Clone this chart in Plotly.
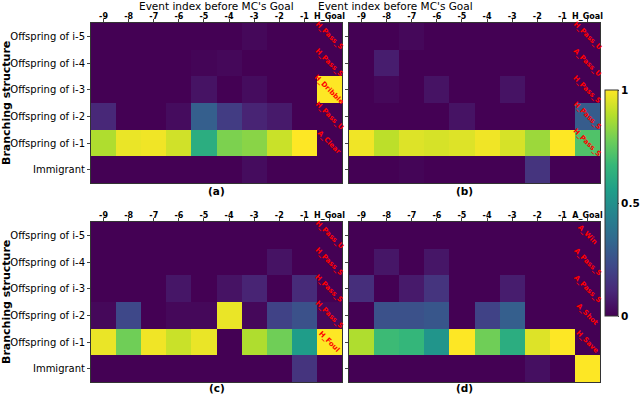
import plotly.graph_objects as go

row_labels = ["Offspring of i-5", "Offspring of i-4", "Offspring of i-3",
              "Offspring of i-2", "Offspring of i-1", "Immigrant"]
cols_home = ["-9", "-8", "-7", "-6", "-5", "-4", "-3", "-2", "-1", "H_Goal"]
cols_away = ["-9", "-8", "-7", "-6", "-5", "-4", "-3", "-2", "-1", "A_Goal"]

panel_a = [
    [0.00, 0.00, 0.00, 0.00, 0.00, 0.00, 0.02, 0.00, 0.00, 0.00],
    [0.00, 0.00, 0.00, 0.00, 0.01, 0.02, 0.00, 0.00, 0.00, 0.00],
    [0.00, 0.00, 0.00, 0.00, 0.05, 0.00, 0.03, 0.00, 0.00, 1.00],
    [0.11, 0.00, 0.00, 0.03, 0.30, 0.18, 0.10, 0.07, 0.00, 0.00],
    [0.88, 0.97, 0.98, 0.93, 0.62, 0.80, 0.82, 0.92, 1.00, 0.00],
    [0.00, 0.00, 0.00, 0.00, 0.00, 0.00, 0.03, 0.00, 0.00, 0.00],
]
panel_b = [
    [0.00, 0.00, 0.02, 0.00, 0.00, 0.00, 0.00, 0.00, 0.00, 0.00],
    [0.00, 0.08, 0.00, 0.00, 0.00, 0.00, 0.00, 0.00, 0.00, 0.00],
    [0.00, 0.02, 0.00, 0.05, 0.00, 0.00, 0.05, 0.00, 0.00, 0.00],
    [0.00, 0.00, 0.00, 0.00, 0.05, 0.00, 0.00, 0.00, 0.00, 0.29],
    [0.98, 0.90, 0.95, 0.94, 0.95, 0.98, 0.94, 0.85, 1.00, 0.72],
    [0.00, 0.00, 0.01, 0.00, 0.00, 0.00, 0.00, 0.15, 0.00, 0.00],
]
panel_c = [
    [0.00, 0.00, 0.00, 0.00, 0.00, 0.00, 0.00, 0.00, 0.00, 0.00],
    [0.00, 0.00, 0.00, 0.00, 0.00, 0.00, 0.00, 0.05, 0.00, 0.00],
    [0.00, 0.00, 0.00, 0.06, 0.00, 0.05, 0.10, 0.00, 0.12, 0.00],
    [0.02, 0.22, 0.00, 0.02, 0.02, 0.97, 0.02, 0.20, 0.25, 0.02],
    [0.97, 0.78, 0.98, 0.92, 0.97, 0.00, 0.88, 0.78, 0.55, 1.00],
    [0.00, 0.00, 0.00, 0.00, 0.00, 0.00, 0.00, 0.00, 0.15, 0.00],
]
panel_d = [
    [0.00, 0.00, 0.00, 0.00, 0.00, 0.00, 0.00, 0.00, 0.00, 0.00],
    [0.00, 0.06, 0.00, 0.06, 0.00, 0.00, 0.00, 0.00, 0.00, 0.00],
    [0.13, 0.00, 0.07, 0.15, 0.00, 0.00, 0.08, 0.00, 0.00, 0.00],
    [0.00, 0.25, 0.25, 0.27, 0.00, 0.20, 0.30, 0.00, 0.00, 0.00],
    [0.88, 0.68, 0.66, 0.52, 1.00, 0.78, 0.62, 0.95, 1.00, 0.00],
    [0.00, 0.00, 0.00, 0.00, 0.00, 0.00, 0.00, 0.04, 0.00, 1.00],
]

goal_events_a = ["H_Pass_S", "H_Pass_S", "H_Dribble", "H_Pass_U", "A_Clear"]
goal_events_b = ["H_Pass_U", "A_Pass_U", "H_Pass_S", "H_Pass_S", "H_Pass_S"]
goal_events_c = ["H_Pass_U", "H_Pass_S", "H_Pass_S", "H_Pass_S", "H_Foul"]
goal_events_d = ["A_Win", "A_Pass_S", "A_Pass_S", "A_Shot", "H_Save"]

panels = [
    (panel_a, cols_home, goal_events_a, "(a)"),
    (panel_b, cols_home, goal_events_b, "(b)"),
    (panel_c, cols_home, goal_events_c, "(c)"),
    (panel_d, cols_away, goal_events_d, "(d)"),
]

W, H = 640, 395
xdoms = [[91 / W, 342 / W], [349 / W, 600 / W]]
ydoms = [[1 - 183 / H, 1 - 23 / H], [1 - 382 / H, 1 - 222 / H]]
FONT = "DejaVu Sans"

fig = go.Figure()
layout = dict(
    width=W, height=H, margin=dict(l=0, r=0, t=0, b=0, autoexpand=False),
    paper_bgcolor="white", plot_bgcolor="white",
    font=dict(family=FONT, color="black"),
    showlegend=False,
)
annotations = []
xi = list(range(10))
yi = list(range(6))

for k, (z, cols, events, tag) in enumerate(panels):
    r, c = divmod(k, 2)
    n = k + 1
    xname = "x" if n == 1 else f"x{n}"
    yname = "y" if n == 1 else f"y{n}"
    fig.add_trace(go.Heatmap(
        z=z, x=xi, y=yi, xaxis=xname, yaxis=yname,
        colorscale="Viridis", zmin=0, zmax=1, showscale=(k == 0),
        colorbar=dict(
            thickness=13, lenmode="pixels", len=226, xpad=0, ypad=0,
            x=605 / W, xanchor="left", y=1 - 203 / H, yanchor="middle",
            outlinewidth=1, outlinecolor="#333",
            tickvals=[0, 0.5, 1], ticktext=["<b>0</b>", "<b>0.5</b>", "<b>1</b>"],
            ticks="outside", ticklen=1, tickfont=dict(size=10.5, family=FONT),
        ),
        hoverinfo="skip",
    ))
    xkey = "xaxis" if n == 1 else f"xaxis{n}"
    ykey = "yaxis" if n == 1 else f"yaxis{n}"
    layout[xkey] = dict(
        domain=xdoms[c], anchor=yname, side="top", automargin=False,
        range=[-0.5, 9.5], tickvals=xi,
        ticktext=[f"<b>{t}</b>" for t in cols],
        tickfont=dict(size=8, family=FONT), ticklabelstandoff=-3,
        ticks="outside", ticklen=3, showgrid=False, zeroline=False,
        showline=True, mirror=True, linecolor="#333", linewidth=1,
    )
    layout[ykey] = dict(
        domain=ydoms[r], anchor=xname, automargin=False,
        range=[5.5, -0.5], tickvals=yi,
        ticktext=row_labels if c == 0 else [""] * 6,
        tickfont=dict(size=10, family=FONT),
        ticks="outside", ticklen=3, showgrid=False, zeroline=False,
        showline=True, mirror=True, linecolor="#333", linewidth=1,
    )
    for j, ev in enumerate(events):
        annotations.append(dict(
            x=9, y=j, xref=xname, yref=yname, text=f"<b>{ev}</b>",
            showarrow=False, textangle=45,
            font=dict(size=7, color="red", family=FONT),
        ))
    xc = (xdoms[c][0] + xdoms[c][1]) / 2
    ybot = ydoms[r][0]
    annotations.append(dict(
        x=xc, y=ybot - (8 if r == 0 else 5.5) / H, xref="paper", yref="paper",
        text=f"<b>{tag}</b>", showarrow=False, yanchor="middle",
        font=dict(size=10.5, family=FONT),
    ))
    if r == 0:
        annotations.append(dict(
            x=xc, y=1 - 6 / H, xref="paper", yref="paper",
            text="Event index before MC's Goal", showarrow=False,
            yanchor="middle", font=dict(size=10.5, family=FONT),
        ))
    if c == 0:
        annotations.append(dict(
            x=6 / W, y=(ydoms[r][0] + ydoms[r][1]) / 2, xref="paper", yref="paper",
            text="<b>Branching structure</b>", showarrow=False, textangle=-90,
            xanchor="center", yanchor="middle", font=dict(size=11, family=FONT),
        ))

layout["annotations"] = annotations
fig.update_layout(**layout)
fig.write_html("out.html", config={"displayModeBar": False},
               post_script="document.body.style.margin='0';")
